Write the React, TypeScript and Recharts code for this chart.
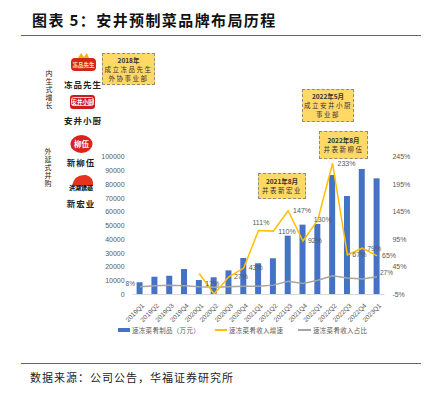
import React from "react";
import { Bar, ComposedChart, LabelList, Line, XAxis, YAxis } from "recharts";

// quarterly data
const quarters = [
  "2019Q1", "2019Q2", "2019Q3", "2019Q4",
  "2020Q1", "2020Q2", "2020Q3", "2020Q4",
  "2021Q1", "2021Q2", "2021Q3", "2021Q4",
  "2022Q1", "2022Q2", "2022Q3", "2022Q4",
  "2023Q1",
];
const salesWan = [
  8900, 12900, 13600, 18500,
  10500, 12500, 17500, 26500,
  22600, 26300, 42700, 50700,
  51200, 86700, 71500, 91100,
  84300,
];
const growthPct: (number | null)[] = [
  null, null, null, null,
  33, -4, 27, 43,
  111, 110, 147, 92,
  130, 233, 67, 79,
  65,
];
const sharePct = [9, 11, 12, 11, 9, 8, 9, 10, 10, 12, 19, 15, 21, 29, 25, 23, 27];
const growthLabels = ["", "", "", "", "17%", "", "27%", "43%", "111%", "110%", "147%", "92%", "130%", "233%", "67%", "79%", "65%"];
const shareLabels = ["8%", "", "", "", "", "", "", "", "", "", "", "", "", "", "", "", "27%"];
const leftTicks = [0, 10000, 20000, 30000, 40000, 50000, 60000, 70000, 80000, 90000, 100000];
const rightTicks = [-5, 45, 95, 145, 195, 245];

const data = quarters.map((q, i) => ({
  q,
  sales: salesWan[i],
  growth: growthPct[i],
  share: sharePct[i],
}));

const FONT = "'Liberation Sans', Arial, sans-serif";
const CJK = "'Noto Sans CJK SC', sans-serif";
const AXIS_GREY = "#595959";

// label nudges so the percentages sit where the source put them
const growthNudge: Record<number, [number, number]> = {
  4: [6, 10], 8: [-6, -8], 9: [5, 0], 12: [-4, -1],
};

function RotTick(props: any) {
  const { x, y, payload } = props;
  return (
    <g transform={`translate(${x + 3},${y + 2}) rotate(-45)`}>
      <text textAnchor="end" dy="0.35em" fontSize={6.5} fill={AXIS_GREY} fontFamily={FONT}>
        {payload.value}
      </text>
    </g>
  );
}

function GrowthLabel(props: any) {
  const { x, y, index } = props;
  const t = growthLabels[index];
  if (!t || x == null || y == null) return null;
  const [dx, dy] = growthNudge[index] ?? [5, 0];
  return (
    <text x={x + dx} y={y + dy} dy="0.35em" fontSize={7} fill={AXIS_GREY} fontFamily={FONT}>
      {t}
    </text>
  );
}

function ShareLabel(props: any) {
  const { x, y, index } = props;
  const t = shareLabels[index];
  if (!t) return null;
  const first = index === 0;
  return (
    <text
      x={first ? x - 5 : x + 3}
      y={first ? y - 3 : y - 4}
      dy="0.35em"
      textAnchor={first ? "end" : "start"}
      fontSize={6.5}
      fill={AXIS_GREY}
      fontFamily={FONT}
    >
      {t}
    </text>
  );
}

function Note({ x, y, w, h, lines }: { x: number; y: number; w: number; h: number; lines: string[] }) {
  return (
    <div
      style={{
        position: "absolute",
        left: x,
        top: y,
        width: w,
        height: h,
        boxSizing: "border-box",
        background: "#ffd966",
        border: "1.5px dashed #8c8c8c",
        display: "flex",
        flexDirection: "column",
        justifyContent: "center",
        alignItems: "center",
        fontFamily: CJK,
        fontSize: 6.5,
        lineHeight: "9px",
        color: "#333",
      }}
    >
      {lines.map((l, i) => (
        <div key={i} style={{ fontWeight: i === 0 ? 700 : 400, letterSpacing: i === 0 ? 0 : 1.5 }}>
          {l}
        </div>
      ))}
    </div>
  );
}

function VText({ x, y, text }: { x: number; y: number; text: string }) {
  return (
    <div
      style={{
        position: "absolute",
        left: x,
        top: y,
        writingMode: "vertical-rl",
        textOrientation: "upright",
        fontFamily: CJK,
        fontSize: 7,
        lineHeight: "9px",
        letterSpacing: 1,
        color: "#222",
      }}
    >
      {text}
    </div>
  );
}

function BrandName({ x, y, text }: { x: number; y: number; text: string }) {
  return (
    <div
      style={{
        position: "absolute",
        left: x - 30,
        top: y - 6,
        width: 60,
        textAlign: "center",
        fontFamily: CJK,
        fontWeight: 700,
        fontSize: 8.5,
        lineHeight: "12px",
        letterSpacing: 1,
        color: "#222",
      }}
    >
      {text}
    </div>
  );
}

function Logos() {
  return (
    <svg width={432} height={398} style={{ position: "absolute", left: 0, top: 0 }}>
      {/* 冻品先生 */}
      <path d="M78 58 L81 53 L84 57 L87 53 L89 58 Z" fill="#f2b705" />
      <rect x={71} y={58} width={25} height={13} rx={4} fill="#d6261c" />
      <text x={83.5} y={66.5} textAnchor="middle" fontSize={5.5} fill="#ffe9a0" fontFamily={CJK} fontWeight={700}>
        冻品先生
      </text>
      {/* 安井小厨 */}
      <rect x={70} y={95} width={25} height={14} rx={3} fill="#c81e1e" />
      <rect x={71.5} y={97.5} width={22} height={8} rx={2} fill="none" stroke="#fff" strokeWidth={0.8} />
      <text x={82.5} y={103.8} textAnchor="middle" fontSize={5.5} fill="#fff" fontFamily={CJK} fontWeight={700}>
        安井小厨
      </text>
      {/* 新柳伍 */}
      <ellipse cx={81.5} cy={144} rx={11} ry={9} fill="#d9231d" />
      <text x={81.5} y={146.5} textAnchor="middle" fontSize={7.5} fill="#fff" fontFamily={CJK} fontWeight={700}>
        柳伍
      </text>
      {/* 新宏业 */}
      <path d="M72 186 Q74 174 86 175 Q94 177 93 186 Z" fill="#e8321e" />
      <text x={81} y={190} textAnchor="middle" fontSize={6} fill="#111" fontFamily={CJK} fontWeight={900}>
        洪湖诱惑
      </text>
    </svg>
  );
}

function LegendRow() {
  const item = (left: number, swatch: React.ReactNode, label: string) => (
    <div style={{ position: "absolute", left, top: 325, display: "flex", alignItems: "center", height: 10 }}>
      {swatch}
      <span style={{ marginLeft: 2, fontFamily: CJK, fontSize: 6.5, color: AXIS_GREY, letterSpacing: 0.3 }}>
        {label}
      </span>
    </div>
  );
  return (
    <>
      {item(118, <span style={{ width: 12, height: 4, background: "#4472c4", display: "inline-block" }} />, "速冻菜肴制品（万元）")}
      {item(215, <span style={{ width: 12, height: 1.5, background: "#ffc000", display: "inline-block" }} />, "速冻菜肴收入增速")}
      {item(298, <span style={{ width: 13, height: 1.5, background: "#a5a5a5", display: "inline-block" }} />, "速冻菜肴收入占比")}
    </>
  );
}

export default function App() {
  return (
    <div
      style={{
        position: "absolute",
        left: 0,
        top: 0,
        width: 432,
        height: 398,
        background: "#fff",
        overflow: "hidden",
      }}
    >
      <div
        style={{
          position: "absolute",
          left: 32,
          top: 10,
          fontFamily: CJK,
          fontWeight: 700,
          fontSize: 15,
          lineHeight: "20px",
          letterSpacing: 1.4,
          color: "#111",
        }}
      >
        图表 5：安井预制菜品牌布局历程
      </div>
      <div style={{ position: "absolute", left: 21, top: 34.5, width: 400, height: 1.2, background: "#5b5ea6" }} />

      <div style={{ position: "absolute", left: 0, top: 0 }}>
        <ComposedChart
          width={432}
          height={398}
          data={data}
          margin={{ top: 156.7, right: 7.6, bottom: 73.5, left: 92.6 }}
        >
          <XAxis
            dataKey="q"
            interval={0}
            tick={<RotTick />}
            tickLine={false}
            axisLine={{ stroke: "#d9d9d9" }}
            height={30}
          />
          <YAxis
            yAxisId="l"
            domain={[0, 100000]}
            ticks={leftTicks}
            width={40}
            axisLine={false}
            tickLine={false}
            tick={{ fontSize: 7, fill: AXIS_GREY, fontFamily: FONT }}
          />
          <YAxis
            yAxisId="r"
            orientation="right"
            domain={[-5, 245]}
            ticks={rightTicks}
            tickFormatter={(v: number) => `${v}%`}
            width={40}
            axisLine={false}
            tickLine={false}
            tickSize={4}
            tickMargin={4}
            tick={{ fontSize: 7, fill: AXIS_GREY, fontFamily: FONT }}
          />
          <Bar yAxisId="l" dataKey="sales" fill="#4472c4" barSize={6} isAnimationActive={false} />
          <Line
            yAxisId="r"
            dataKey="share"
            stroke="#a5a5a5"
            strokeWidth={1.5}
            dot={false}
            isAnimationActive={false}
          >
            <LabelList dataKey="share" content={<ShareLabel />} />
          </Line>
          <Line
            yAxisId="r"
            dataKey="growth"
            stroke="#ffc000"
            strokeWidth={1.5}
            dot={false}
            isAnimationActive={false}
          >
            <LabelList dataKey="growth" content={<GrowthLabel />} />
          </Line>
        </ComposedChart>
      </div>

      <Logos />
      <VText x={44} y={70} text="内生式增长" />
      <VText x={43} y={148} text="外延式并购" />
      <BrandName x={83} y={84} text="冻品先生" />
      <BrandName x={83} y={120} text="安井小厨" />
      <BrandName x={81} y={162} text="新柳伍" />
      <BrandName x={81} y={203} text="新宏业" />

      <Note x={102} y={53} w={53} h={32} lines={["2018年", "成立冻品先生", "外协事业部"]} />
      <Note x={302} y={89} w={52} h={33} lines={["2022年5月", "成立安井小厨", "事业部"]} />
      <Note x={319} y={131} w={49} h={28} lines={["2022年8月", "并表新柳伍"]} />
      <Note x={258} y={173} w={48} h={26} lines={["2021年8月", "并表新宏业"]} />

      <LegendRow />

      <div style={{ position: "absolute", left: 21, top: 362.5, width: 400, height: 1.2, background: "#5b5ea6" }} />
      <div
        style={{
          position: "absolute",
          left: 30,
          top: 370,
          fontFamily: CJK,
          fontSize: 11,
          lineHeight: "14px",
          letterSpacing: 1,
          color: "#222",
        }}
      >
        数据来源：公司公告，华福证券研究所
      </div>
    </div>
  );
}
